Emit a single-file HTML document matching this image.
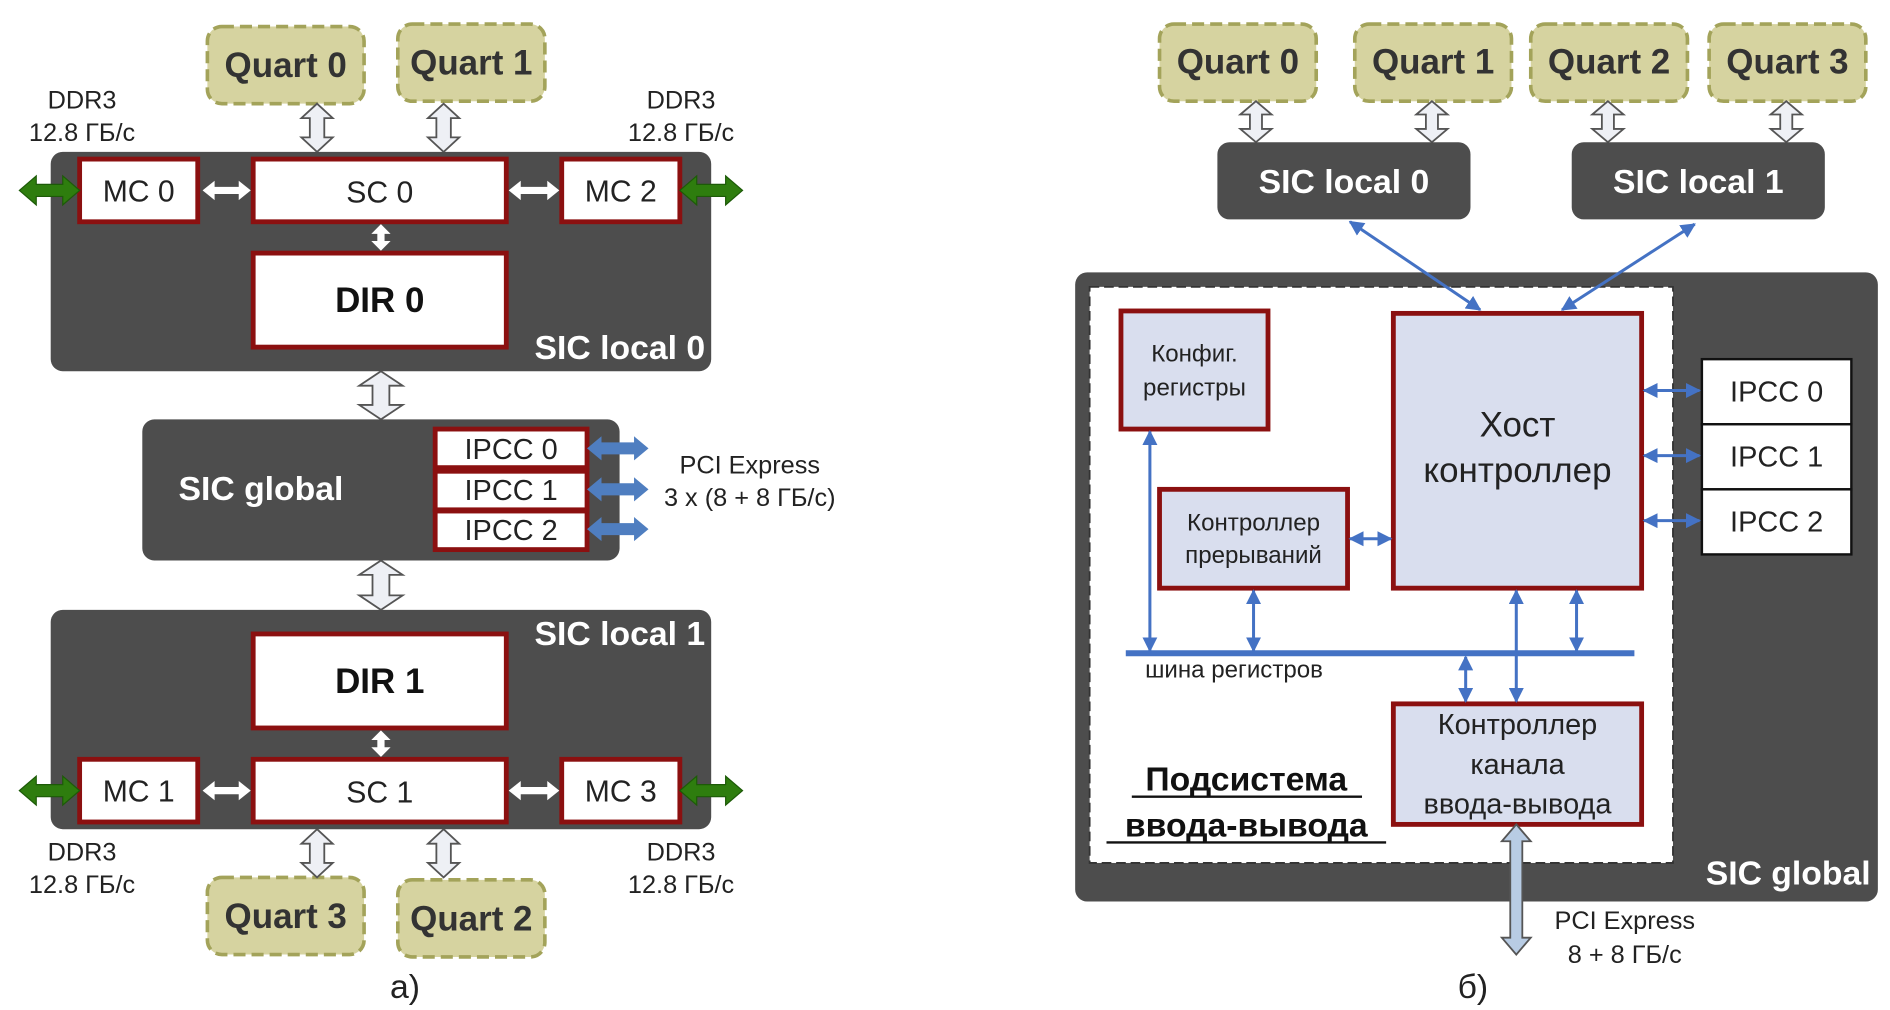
<!DOCTYPE html>
<html><head><meta charset="utf-8"><style>
html,body{margin:0;padding:0;background:#fff;}
svg{display:block;}
text{font-family:"Liberation Sans",Arial,sans-serif;}
</style></head><body>
<svg width="1890" height="1010" viewBox="0 0 1568 838" xmlns="http://www.w3.org/2000/svg">
<defs>
<marker id="ah" viewBox="0 0 10 10" refX="9" refY="5" markerWidth="5" markerHeight="5" orient="auto-start-reverse"><path d="M0,0 L10,5 L0,10 z" fill="#4472c4"/></marker>
</defs>
<rect width="1568" height="838" fill="#fff"/>

<!-- LEFT -->
<g stroke="#a3a35a" stroke-width="3" stroke-dasharray="10,5" fill="#d6d3a0">
<rect x="172" y="22" width="130" height="64" rx="12"/>
<rect x="330" y="20" width="122" height="64" rx="12"/>
<rect x="172" y="728" width="130" height="64" rx="12"/>
<rect x="330" y="730" width="122" height="64" rx="12"/>
</g>
<g font-size="29" font-weight="bold" fill="#333" text-anchor="middle">
<text x="237" y="64">Quart 0</text><text x="391" y="62">Quart 1</text>
<text x="237" y="770">Quart 3</text><text x="391" y="772">Quart 2</text>
</g>
<g fill="#eef0f5" stroke="#555" stroke-width="1.5">
<polygon points="263,86 276,98 269,98 269,114 276,114 263,126 250,114 257,114 257,98 250,98"/>
<polygon points="368,86 381,98 374,98 374,114 381,114 368,126 355,114 362,114 362,98 355,98"/>
<polygon points="316,308 334,320 323,320 323,336 334,336 316,348 298,336 309,336 309,320 298,320"/>
<polygon points="316,465 334,477 323,477 323,494 334,494 316,506 298,494 309,494 309,477 298,477"/>
<polygon points="263,688 276,700 269,700 269,716 276,716 263,728 250,716 257,716 257,700 250,700"/>
<polygon points="368,688 381,700 374,700 374,716 381,716 368,728 355,716 362,716 362,700 355,700"/>
</g>
<g font-size="21" fill="#222" text-anchor="middle">
<text x="68" y="90">DDR3</text><text x="68" y="117">12.8 ГБ/с</text>
<text x="565" y="90">DDR3</text><text x="565" y="117">12.8 ГБ/с</text>
<text x="68" y="714">DDR3</text><text x="68" y="741">12.8 ГБ/с</text>
<text x="565" y="714">DDR3</text><text x="565" y="741">12.8 ГБ/с</text>
<text x="622" y="393">PCI Express</text><text x="622" y="420">3 x (8 + 8 ГБ/с)</text>
</g>
<rect x="42" y="126" width="548" height="182" rx="10" fill="#4d4d4d"/>
<rect x="118" y="348" width="396" height="117" rx="10" fill="#4d4d4d"/>
<rect x="42" y="506" width="548" height="182" rx="10" fill="#4d4d4d"/>
<g fill="#fff" stroke="#8b1010" stroke-width="4">
<rect x="66" y="132" width="98" height="52"/><rect x="210" y="132" width="210" height="52"/><rect x="466" y="132" width="98" height="52"/>
<rect x="210" y="210" width="210" height="78"/>
<rect x="210" y="526" width="210" height="78"/>
<rect x="66" y="630" width="98" height="52"/><rect x="210" y="630" width="210" height="52"/><rect x="466" y="630" width="98" height="52"/>
<rect x="361" y="356" width="126" height="32"/><rect x="361" y="391" width="126" height="32"/><rect x="361" y="424" width="126" height="32"/>
</g>
<g font-size="25" fill="#222" text-anchor="middle">
<text x="115" y="167">MC 0</text><text x="315" y="168">SC 0</text><text x="515" y="167">MC 2</text>
<text x="115" y="665">MC 1</text><text x="315" y="666">SC 1</text><text x="515" y="665">MC 3</text>
<text x="424" y="381" font-size="24">IPCC 0</text><text x="424" y="415" font-size="24">IPCC 1</text><text x="424" y="448" font-size="24">IPCC 2</text>
</g>
<g font-size="29" font-weight="bold" fill="#111" text-anchor="middle">
<text x="315" y="259">DIR 0</text><text x="315" y="575">DIR 1</text>
</g>
<g font-size="28" font-weight="bold" fill="#fff">
<text x="585" y="298" text-anchor="end">SIC local 0</text>
<text x="585" y="535" text-anchor="end">SIC local 1</text>
<text x="148" y="415">SIC  global</text>
</g>
<g fill="#fff">
<polygon points="168,158 178,150 178,155 198,155 198,150 208,158 198,166 198,161 178,161 178,166"/>
<polygon points="422,158 432,150 432,155 454,155 454,150 464,158 454,166 454,161 432,161 432,166"/>
<polygon points="316,186 324,194 319,194 319,200 324,200 316,208 308,200 313,200 313,194 308,194"/>
<polygon points="168,656 178,648 178,653 198,653 198,648 208,656 198,664 198,659 178,659 178,664"/>
<polygon points="422,656 432,648 432,653 454,653 454,648 464,656 454,664 454,659 432,659 432,664"/>
<polygon points="316,606 324,614 319,614 319,620 324,620 316,628 308,620 313,620 313,614 308,614"/>
</g>
<g fill="#2e7d0e" stroke="#1d5a08" stroke-width="1">
<polygon points="16,158 30,146 30,153 52,153 52,146 66,158 52,170 52,163 30,163 30,170"/>
<polygon points="564,158 578,146 578,153 602,153 602,146 616,158 602,170 602,163 578,163 578,170"/>
<polygon points="16,656 30,644 30,651 52,651 52,644 66,656 52,668 52,661 30,661 30,668"/>
<polygon points="564,656 578,644 578,651 602,651 602,644 616,656 602,668 602,661 578,661 578,668"/>
</g>
<g fill="#4f7ec0">
<polygon points="487,372 499,362 499,367 526,367 526,362 538,372 526,382 526,377 499,377 499,382"/>
<polygon points="487,406 499,396 499,401 526,401 526,396 538,406 526,416 526,411 499,411 499,416"/>
<polygon points="487,439 499,429 499,434 526,434 526,429 538,439 526,449 526,444 499,444 499,449"/>
</g>
<text x="336" y="828" font-size="28" text-anchor="middle" fill="#222">а)</text>

<!-- RIGHT -->
<g stroke="#a3a35a" stroke-width="3" stroke-dasharray="10,5" fill="#d6d3a0">
<rect x="962" y="20" width="130" height="64" rx="12"/>
<rect x="1124" y="20" width="130" height="64" rx="12"/>
<rect x="1270" y="20" width="130" height="64" rx="12"/>
<rect x="1418" y="20" width="130" height="64" rx="12"/>
</g>
<g font-size="29" font-weight="bold" fill="#333" text-anchor="middle">
<text x="1027" y="61">Quart 0</text><text x="1189" y="61">Quart 1</text><text x="1335" y="61">Quart 2</text><text x="1483" y="61">Quart 3</text>
</g>
<g fill="#eef0f5" stroke="#555" stroke-width="1.5">
<polygon points="1042,84 1055,95 1047,95 1047,107 1055,107 1042,118 1029,107 1037,107 1037,95 1029,95"/>
<polygon points="1188,84 1201,95 1193,95 1193,107 1201,107 1188,118 1175,107 1183,107 1183,95 1175,95"/>
<polygon points="1334,84 1347,95 1339,95 1339,107 1347,107 1334,118 1321,107 1329,107 1329,95 1321,95"/>
<polygon points="1482,84 1495,95 1487,95 1487,107 1495,107 1482,118 1469,107 1477,107 1477,95 1469,95"/>
</g>
<rect x="1010" y="118" width="210" height="64" rx="10" fill="#4d4d4d"/>
<rect x="1304" y="118" width="210" height="64" rx="10" fill="#4d4d4d"/>
<g font-size="28" font-weight="bold" fill="#fff" text-anchor="middle">
<text x="1115" y="160">SIC local 0</text><text x="1409" y="160">SIC local 1</text>
</g>
<rect x="892" y="226" width="666" height="522" rx="10" fill="#4d4d4d"/>
<rect x="904" y="238" width="484" height="478" fill="#fff" stroke="#333" stroke-width="1.5" stroke-dasharray="8,4"/>
<text x="1552" y="734" font-size="28" font-weight="bold" fill="#fff" text-anchor="end">SIC global</text>
<g fill="#d9deee" stroke="#8b1010" stroke-width="4">
<rect x="930" y="258" width="122" height="98"/>
<rect x="1156" y="260" width="206" height="228"/>
<rect x="962" y="406" width="156" height="82"/>
<rect x="1156" y="584" width="206" height="100"/>
</g>
<g fill="#fff" stroke="#111" stroke-width="2">
<rect x="1412" y="298" width="124" height="54"/><rect x="1412" y="352" width="124" height="54"/><rect x="1412" y="406" width="124" height="54"/>
</g>
<g font-size="24" fill="#222" text-anchor="middle">
<text x="1474" y="333">IPCC 0</text><text x="1474" y="387">IPCC 1</text><text x="1474" y="441">IPCC 2</text>
</g>
<g font-size="20" fill="#222" text-anchor="middle">
<text x="991" y="300">Конфиг.</text><text x="991" y="328">регистры</text>
<text x="1040" y="440">Контроллер</text><text x="1040" y="467">прерываний</text>
</g>
<g font-size="29" fill="#222" text-anchor="middle">
<text x="1259" y="362">Хост</text><text x="1259" y="400">контроллер</text>
</g>
<g font-size="24" fill="#222" text-anchor="middle">
<text x="1259" y="609">Контроллер</text><text x="1259" y="642">канала</text><text x="1259" y="675">ввода-вывода</text>
</g>
<line x1="934" y1="542" x2="1356" y2="542" stroke="#4472c4" stroke-width="5"/>
<text x="950" y="562" font-size="20" fill="#222">шина регистров</text>
<g stroke="#4472c4" stroke-width="2.5" marker-start="url(#ah)" marker-end="url(#ah)">
<line x1="954" y1="358" x2="954" y2="540"/>
<line x1="1040" y1="490" x2="1040" y2="540"/>
<line x1="1216" y1="545" x2="1216" y2="582"/>
<line x1="1258" y1="490" x2="1258" y2="582"/>
<line x1="1308" y1="490" x2="1308" y2="540"/>
<line x1="1120" y1="447" x2="1154" y2="447"/>
<line x1="1364" y1="324" x2="1410" y2="324"/>
<line x1="1364" y1="378" x2="1410" y2="378"/>
<line x1="1364" y1="432" x2="1410" y2="432"/>
<line x1="1120" y1="184" x2="1228" y2="257"/>
<line x1="1406" y1="186" x2="1296" y2="257"/>
</g>
<g font-size="28" font-weight="bold" fill="#111" text-anchor="middle">
<text x="1034" y="656">Подсистема</text><text x="1034" y="694">ввода-вывода</text>
</g>
<line x1="939" y1="661" x2="1130" y2="661" stroke="#111" stroke-width="2"/>
<line x1="918" y1="699" x2="1150" y2="699" stroke="#111" stroke-width="2"/>
<polygon points="1258,684 1270,698 1263,698 1263,778 1270,778 1258,792 1246,778 1253,778 1253,698 1246,698" fill="#b8cce4" stroke="#555" stroke-width="1.5"/>
<g font-size="21" fill="#222" text-anchor="middle">
<text x="1348" y="771">PCI Express</text><text x="1348" y="799">8 + 8 ГБ/с</text>
</g>
<text x="1222" y="828" font-size="28" text-anchor="middle" fill="#222">б)</text>
</svg>
</body></html>
